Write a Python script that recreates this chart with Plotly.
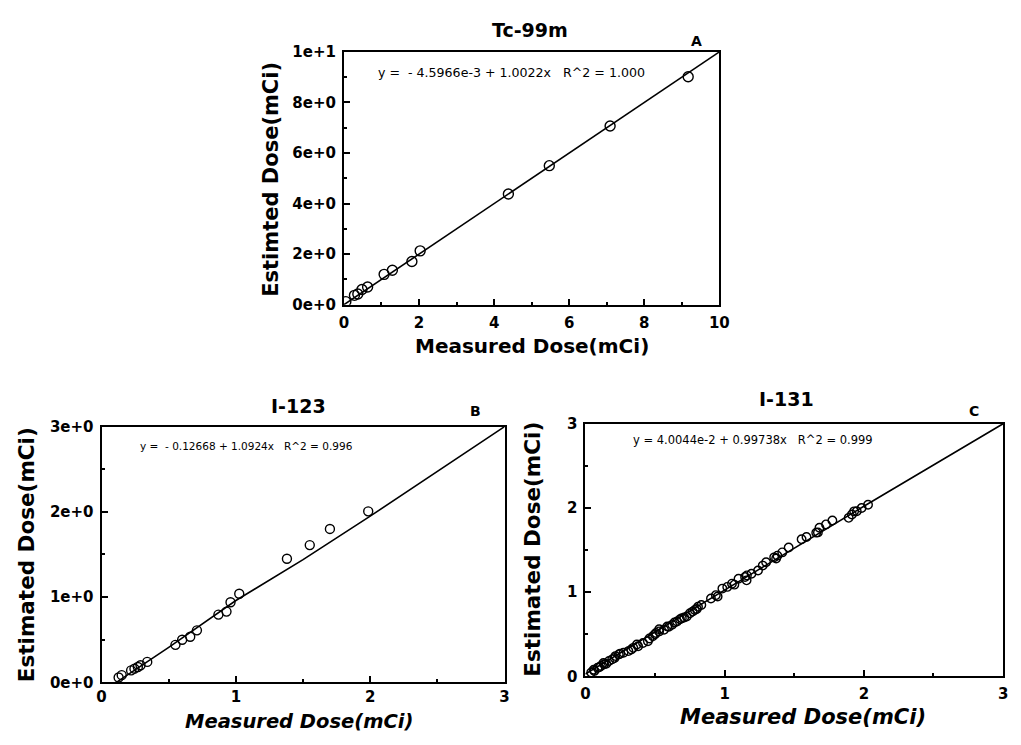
import plotly.graph_objects as go

W, H = 1021, 745

# ---------------- data ----------------
# Panel A : Tc-99m
a_meas = [0.05, 0.28, 0.37, 0.48, 0.63, 1.07, 1.29, 1.81, 2.03, 4.38, 5.47, 7.09, 9.17]
a_est = [0.12, 0.37, 0.42, 0.60, 0.70, 1.20, 1.36, 1.71, 2.13, 4.38, 5.50, 7.07, 9.02]
a_fit_x = [0.0, 10.0]
a_fit_y = [0.0, 10.0]

# Panel B : I-123
b_meas = [0.127, 0.15, 0.22, 0.245, 0.27, 0.29, 0.34, 0.55, 0.60, 0.66, 0.71,
          0.87, 0.93, 0.96, 1.025, 1.38, 1.55, 1.70, 1.985]
b_est = [0.057, 0.084, 0.14, 0.16, 0.18, 0.20, 0.24, 0.44, 0.50, 0.535, 0.61,
         0.795, 0.83, 0.94, 1.04, 1.45, 1.61, 1.80, 2.006]
b_fit_x = [0.11, 0.5, 1.0, 1.5, 2.0, 2.5, 3.0]
b_fit_y = [0.0, 0.41, 0.96, 1.44, 1.95, 2.47, 3.0]

# Panel C : I-131
c_meas = [0.042, 0.065, 0.088, 0.112, 0.135, 0.170, 0.193, 0.216, 0.240, 0.274,
          0.309, 0.344, 0.379, 0.414, 0.449, 0.484, 0.507, 0.530, 0.565, 0.588,
          0.623, 0.658, 0.693, 0.728, 0.751, 0.786, 0.809, 0.833, 0.902, 0.937,
          0.984, 1.019, 1.053, 1.100, 1.147, 1.158, 1.193, 1.240, 1.274, 1.298,
          1.356, 1.379, 1.414, 1.460, 1.553, 1.588, 1.658, 1.681, 1.728, 1.774,
          1.891, 1.914, 1.949, 1.984, 2.030,
          0.06, 0.10, 0.13, 0.15, 0.21, 0.25, 0.33, 0.37, 0.46, 0.50, 0.53, 0.60,
          0.64, 0.68, 0.71, 0.77, 0.80, 0.95, 1.07, 1.16, 1.37, 1.67, 1.93]
c_est = [0.047, 0.066, 0.105, 0.125, 0.145, 0.184, 0.203, 0.242, 0.262, 0.281,
         0.301, 0.340, 0.359, 0.398, 0.418, 0.477, 0.516, 0.535, 0.555, 0.594,
         0.613, 0.652, 0.691, 0.711, 0.750, 0.789, 0.828, 0.848, 0.926, 0.965,
         1.043, 1.063, 1.102, 1.160, 1.180, 1.141, 1.219, 1.258, 1.316, 1.355,
         1.414, 1.434, 1.473, 1.531, 1.629, 1.656, 1.707, 1.766, 1.805, 1.852,
         1.883, 1.922, 1.961, 2.000, 2.039,
         0.08, 0.11, 0.16, 0.15, 0.22, 0.27, 0.32, 0.38, 0.45, 0.50, 0.56, 0.59,
         0.64, 0.68, 0.70, 0.77, 0.80, 0.95, 1.09, 1.20, 1.40, 1.71, 1.96]
c_fit_x = [0.0, 1.0, 2.0, 3.0]
c_fit_y = [0.03, 1.03, 2.02, 3.0]

a_yticks = [0, 2, 4, 6, 8, 10]
a_yticktext = ["0e+0", "2e+0", "4e+0", "6e+0", "8e+0", "1e+1"]
b_yticks = [0, 1, 2, 3]
b_yticktext = ["0e+0", "1e+0", "2e+0", "3e+0"]
c_yticks = [0, 1, 2, 3]
c_yticktext = ["0", "1", "2", "3"]

# ---------------- layout helpers ----------------
FONT = "DejaVu Sans, Liberation Sans, Arial, sans-serif"


def px(x):
    return x / W


def py(y):
    return 1 - y / H


fig = go.Figure()

panels = [
    dict(mx=a_meas, ey=a_est, fx=a_fit_x, fy=a_fit_y, xa="x", ya="y", msize=10),
    dict(mx=b_meas, ey=b_est, fx=b_fit_x, fy=b_fit_y, xa="x2", ya="y2", msize=9),
    dict(mx=c_meas, ey=c_est, fx=c_fit_x, fy=c_fit_y, xa="x3", ya="y3", msize=8.5),
]
for p in panels:
    fig.add_trace(go.Scatter(x=p["fx"], y=p["fy"], mode="lines",
                             line=dict(color="black", width=1.6),
                             xaxis=p["xa"], yaxis=p["ya"], showlegend=False,
                             cliponaxis=True))
    fig.add_trace(go.Scatter(x=p["mx"], y=p["ey"], mode="markers",
                             marker=dict(symbol="circle-open", size=p["msize"],
                                         color="black", line=dict(width=1.4)),
                             xaxis=p["xa"], yaxis=p["ya"], showlegend=False))

tickfont = dict(family=FONT, size=15, color="black", weight="bold")
common = dict(showgrid=False, zeroline=False, showline=True, linecolor="black",
              linewidth=2, mirror=True, ticks="inside", ticklen=6,
              tickwidth=1.5, tickcolor="black", tickfont=tickfont)


def minor(d):
    return dict(ticks="inside", ticklen=3, dtick=d, tickcolor="black", tickwidth=1.5)


fig.update_layout(
    width=W, height=H, margin=dict(l=0, r=0, t=0, b=0),
    paper_bgcolor="white", plot_bgcolor="white",
    xaxis=dict(domain=[px(344), px(725)], range=[0, 10], tickvals=[0, 2, 4, 6, 8, 10],
               minor=minor(1), anchor="y", ticklabelstandoff=3, **common),
    yaxis=dict(domain=[py(303), py(44)], range=[0, 10], tickvals=a_yticks,
               ticktext=a_yticktext, minor=minor(1), anchor="x",
               ticklabelstandoff=3, **common),
    xaxis2=dict(domain=[px(98), px(507)], range=[0, 3], tickvals=[0, 1, 2, 3],
                minor=minor(0.5), anchor="y2", ticklabelstandoff=0, **common),
    yaxis2=dict(domain=[py(690), py(428)], range=[0, 3], tickvals=b_yticks,
                ticktext=b_yticktext, minor=minor(0.5), anchor="x2",
                ticklabelstandoff=3, **common),
    xaxis3=dict(domain=[px(589), px(1013)], range=[0, 3], tickvals=[0, 1, 2, 3],
                minor=minor(0.5), anchor="y3", ticklabelstandoff=3, **common),
    yaxis3=dict(domain=[py(684), py(425)], range=[0, 3], tickvals=c_yticks,
                ticktext=c_yticktext, minor=minor(0.5), anchor="x3",
                ticklabelstandoff=3, **common),
)


def ann(text, x, y, size, bold=True, angle=0, xanchor="center", italic=False):
    fig.add_annotation(text=text, x=px(x), y=py(y), xref="paper", yref="paper",
                       showarrow=False, xanchor=xanchor, yanchor="middle",
                       textangle=angle,
                       font=dict(family=FONT, size=size, color="black",
                                 weight="bold" if bold else "normal",
                                 style="italic" if italic else "normal"))


# Panel A texts
ann("Tc-99m", 533, 22, 19)
ann("A", 702, 33, 14)
ann("Measured Dose(mCi)", 535, 345, 20)
ann("Estimted Dose(mCi)", 270, 175, 21, angle=-90)
ann("y =  - 4.5966e-3 + 1.0022x   R^2 = 1.000", 377, 65, 12.6, bold=False, xanchor="left")

# Panel B texts
ann("I-123", 298, 407, 19)
ann("B", 478, 412, 14)
ann("Measured Dose(mCi)", 298, 730, 19.5, italic=True)
ann("Estimated Dose(mCi)", 22, 559, 21.5, angle=-90)
ann("y =  - 0.12668 + 1.0924x   R^2 = 0.996", 135, 448, 10.5, bold=False, xanchor="left")

# Panel C texts
ann("I-131", 793, 400, 19)
ann("C", 983, 412, 14)
ann("Measured Dose(mCi)", 810, 726, 21, italic=True)
ann("Estimated Dose(mCi)", 535, 554, 21.5, angle=-90)
ann("y = 4.0044e-2 + 0.99738x   R^2 = 0.999", 635, 442, 11.5, bold=False, xanchor="left")

fig.write_html("out.html")
